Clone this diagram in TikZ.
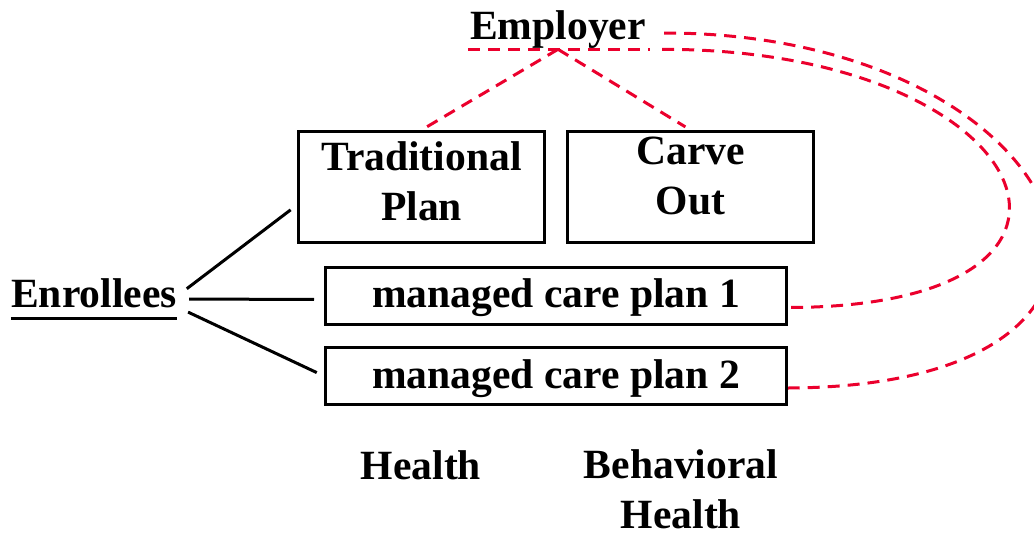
\documentclass[tikz,border=0pt]{standalone}
\usepackage{fontspec}
\setmainfont{Liberation Serif}
\definecolor{empred}{RGB}{235,0,45}

\begin{document}
\begin{tikzpicture}
		[x=0.5pt,y=-0.5pt,
		font=\fontsize{20.8}{25}\selectfont\bfseries,
		box/.style ={rectangle, draw=black, line width=1.5pt, align=center, minimum width=123pt, minimum height=55.5pt, inner sep=0pt},
		wide/.style ={box, minimum width=230.5pt, minimum height=28.5pt, text height=17pt},
		txt/.style ={align=center, inner sep=0pt},
		link/.style ={draw, line width=1.5pt, shorten <=6pt},
		reddash/.style ={draw=empred, line width=1.5pt, dash pattern=on 6pt off 4pt},
		]
		\useasboundingbox (0,0) rectangle (1034,536);
		\clip (0,0) rectangle (1034,536);

		\draw (558,30) node[txt] (emp) {Employer};
		\draw (94,293) node[txt] (enr) {Enrollees};

		\draw (421.5,187) node[box, text depth=5.5pt] (trad) {Traditional\\Plan};
		\draw (690.5,187) node[box, text depth=11.5pt] (carve) {Carve\\Out};
		\draw (556,295.5) node[wide] (mcp1) {managed care plan 1};
		\draw (556,376) node[wide] (mcp2) {managed care plan 2};

		\draw (421,465) node[txt] (hlth) {Health};
		\draw (681,489) node[txt] (bhlth) {Behavioral\\Health};

		\draw[line width=1.5pt] ([yshift=-5pt]enr.south west) -- ([yshift=-5pt]enr.south east);
		\draw[reddash] ([xshift=-1pt]emp.south west) -- ([xshift=2pt]emp.south east);

		\path[link]
		([yshift=-1.5pt]enr.east) edge[shorten >=4pt] ([yshift=-9pt]trad.west)
		([yshift=-3pt]enr.east) edge[shorten >=5pt] ([yshift=-2pt]mcp1.west)
		([yshift=-7pt]enr.east) edge[shorten >=4pt] (mcp2.west);
		\path[reddash]
		(emp.south) edge[shorten >=2.5pt] (trad.north)
		(emp.south) edge[shorten >=3pt] (carve.north);
		\draw[reddash] ([xshift=8pt]emp.south east) .. controls (1040,49) and (1150,307) .. ([yshift=-6pt]mcp1.east);
		\draw[reddash] ([xshift=9pt,yshift=-1.5pt]emp.east) .. controls (1080,33) and (1222,386) .. ([yshift=-6pt]mcp2.east);

	\end{tikzpicture}
\end{document}
